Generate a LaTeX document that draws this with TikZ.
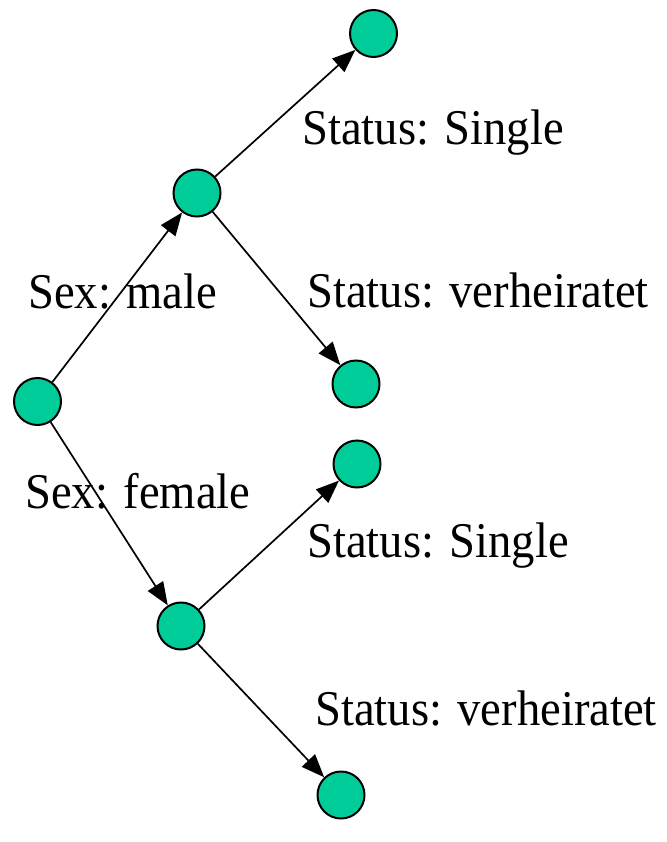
\documentclass[tikz,border=0pt]{standalone}
\usepackage{fontspec}
\usepackage{graphicx}
\setmainfont{Liberation Serif}
\usetikzlibrary{arrows.meta}
\definecolor{dotgreen}{HTML}{00CC99}
\newcommand{\cond}[1]{\scalebox{0.932}[1]{#1}}
\begin{document}
\begin{tikzpicture}[x=1pt,y=-1pt,
  dot/.style={circle,draw=black,line width=2pt,fill=dotgreen,minimum size=47pt,inner sep=0pt},
  lbl/.style={anchor=base west,inner sep=0pt,font=\fontsize{50}{60}\selectfont},
  link/.style={line width=1.7pt,-{Triangle[length=23pt,width=18pt]}}]
\useasboundingbox (0,0) rectangle (666,842);
% nodes
\node[dot] (r)  at (37.5,401.5) {};
\node[dot] (a)  at (197,193) {};
\node[dot] (a1) at (373.5,33.5) {};
\node[dot] (a2) at (356,384) {};
\node[dot] (b)  at (181,626) {};
\node[dot] (b1) at (357,464) {};
\node[dot] (b2) at (341,795) {};
% connectors
\draw[link] (r) -- (a);
\draw[link] (r) -- (b);
\draw[link] (a) -- (a1);
\draw[link] (a) -- (a2);
\draw[link] (b) -- (b1);
\draw[link] (b) -- (b2);
% labels
\node[lbl] (l1) at (302,145) {\cond{Status: Single}};
\node[lbl] (l2) at (28,308) {\cond{Sex: male}};
\node[lbl] (l3) at (307,307) {\cond{Status: verheiratet}};
\node[lbl] (l4) at (25,508) {\cond{Sex: female}};
\node[lbl] (l5) at (307,557) {\cond{Status: Single}};
\node[lbl] (l6) at (315,725) {\cond{Status: verheiratet}};
\end{tikzpicture}
\end{document}
